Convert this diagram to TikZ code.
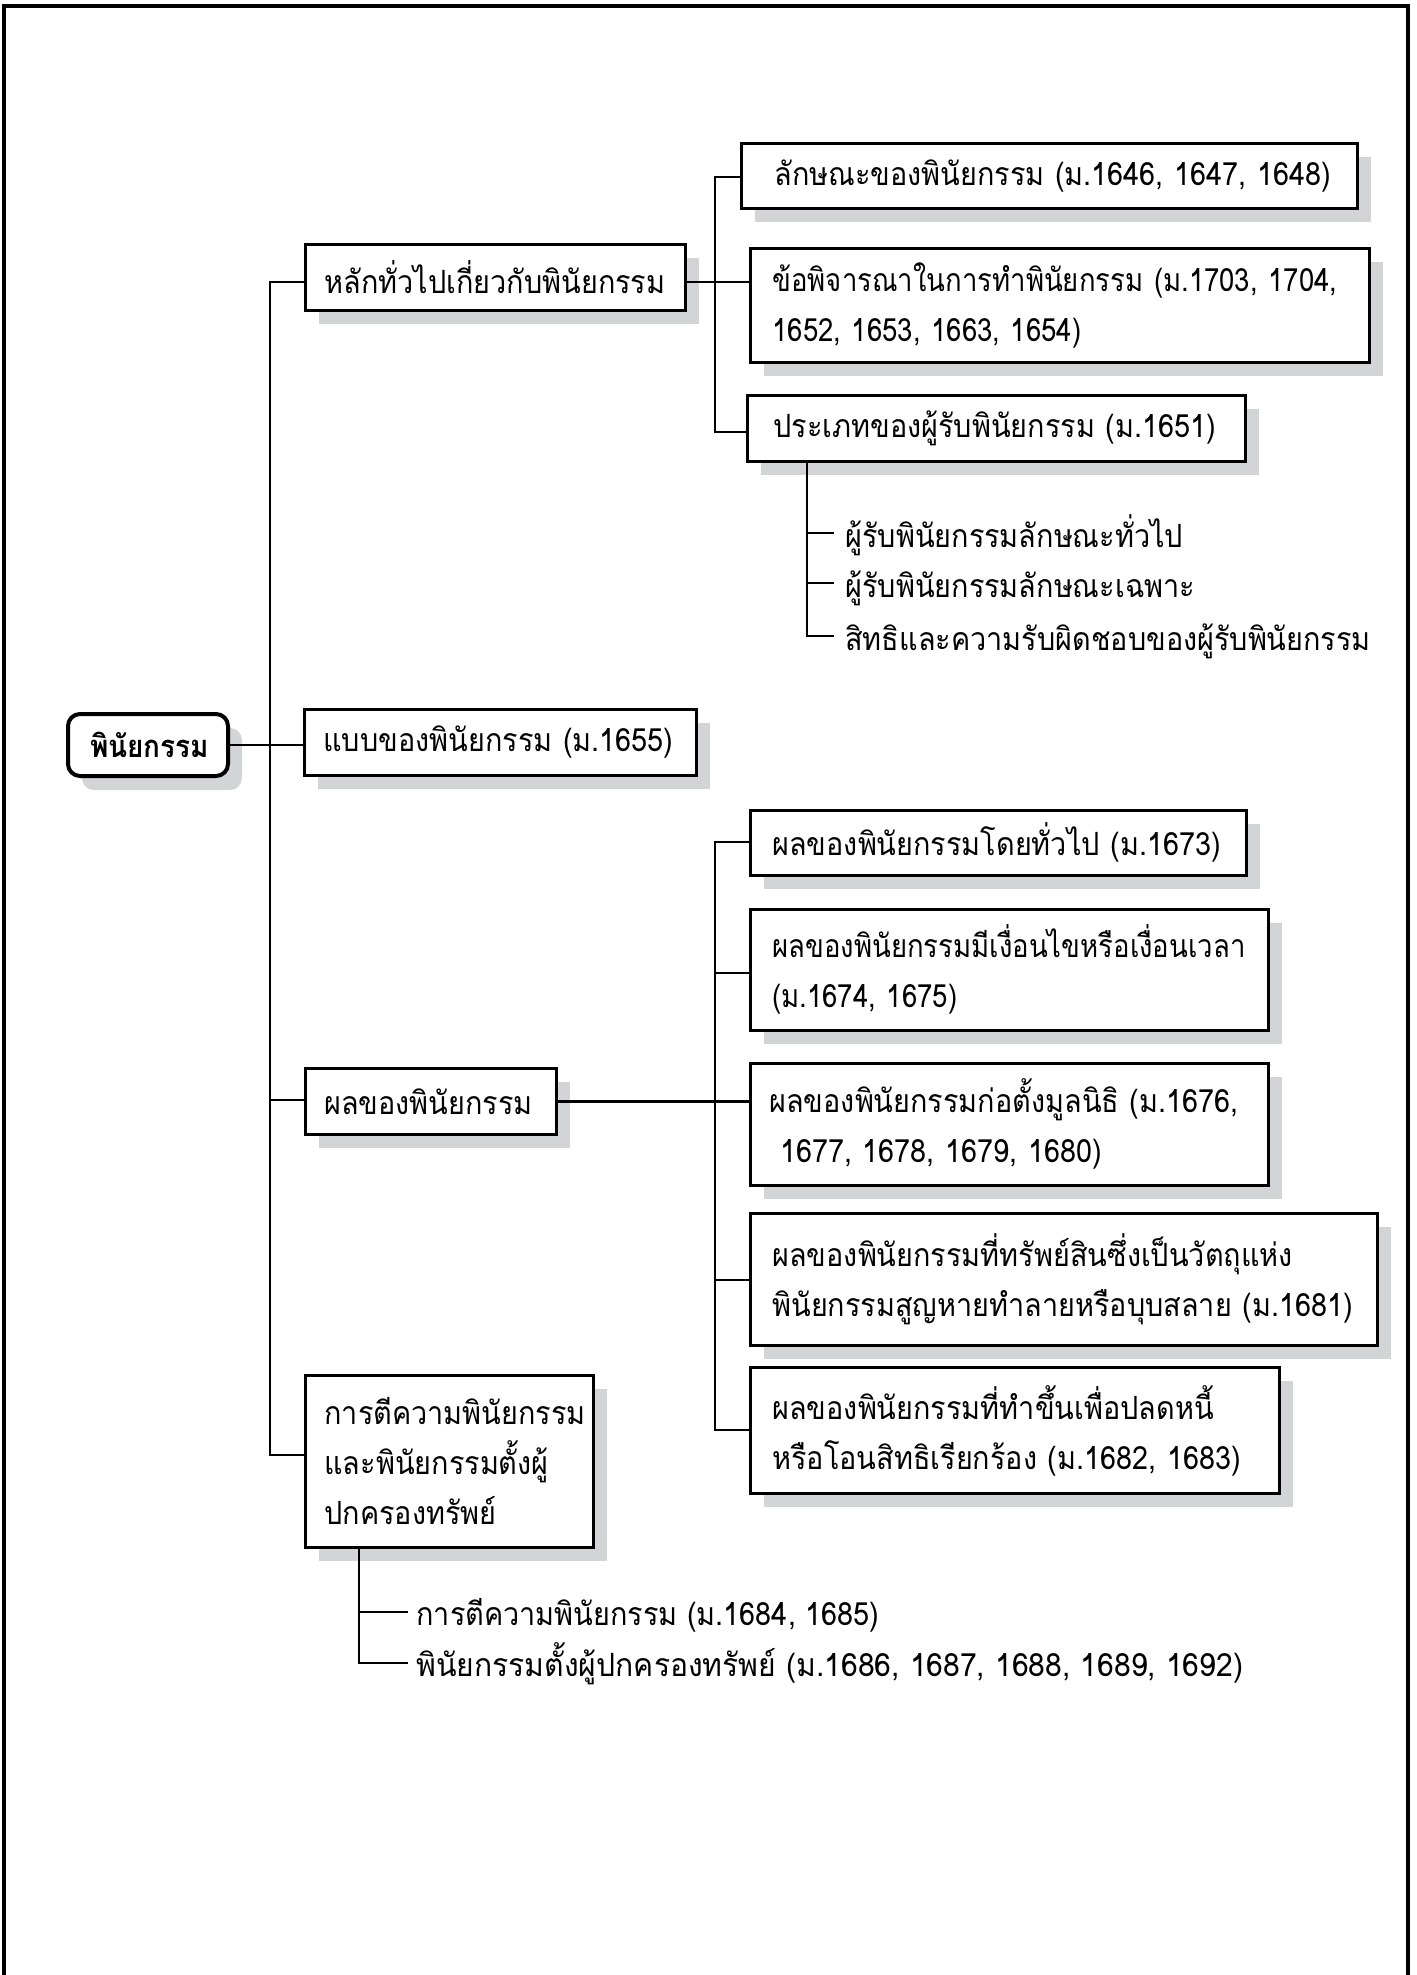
\documentclass[tikz,border=0pt]{standalone}
\usepackage{fontspec}
\usetikzlibrary{shadows}
\newfontfamily\thaifont[Script=Thai, FakeStretch=0.90]{Loma}
\newfontfamily\thainarrow[Script=Thai, FakeStretch=0.86]{Loma}
\newfontfamily\thaiwide[Script=Thai, FakeStretch=0.94]{Loma}
\definecolor{shadegray}{RGB}{211,212,214}
\tikzset{
  bx/.style={draw, line width=1.4pt, fill=white, anchor=north west, align=left,
    inner xsep=11pt, inner ysep=0pt,
    font=\thaifont\fontsize{16}{25}\selectfont,
    drop shadow={shadow xshift=7pt, shadow yshift=-7pt, fill=shadegray, opacity=1}},
  conn/.style={line width=1.3pt},
  item/.style={anchor=west, inner xsep=5.5pt, inner ysep=0pt, text height=17pt, text depth=3pt,
    font=\thaifont\fontsize{16}{25}\selectfont}
}
\begin{document}
\begin{tikzpicture}[x=0.5pt,y=-0.5pt]
\useasboundingbox (0,0) rectangle (1417,1975);
\draw[line width=1.6pt] (4,1975) -- (4,6) -- (1408,6) -- (1408,1975);

% root
\node[bx, line width=2pt, rounded corners=6pt, align=center, text width=58pt, minimum height=31pt,
  font=\thaifont\bfseries\fontsize{15.5}{25}\selectfont] (root) at (66,712) {พินัยกรรม};

% level 1
\node[bx, inner xsep=9.5pt, text width=171pt, minimum height=33pt] (L1a) at (304,243) {\mbox{หลักทั่วไปเกี่ยวกับพินัยกรรม}};
\node[bx, inner xsep=9.5pt, text width=177pt, minimum height=33pt] (L1b) at (303,708) {\mbox{แบบของพินัยกรรม (ม.1655)}};
\node[bx, inner xsep=9.5pt, text width=106.5pt, minimum height=33pt] (L1c) at (304,1067) {\mbox{ผลของพินัยกรรม}};
\node[bx, inner xsep=9.5pt, text width=125pt, minimum height=86pt] (L1d) at (304,1374) {\mbox{การตีความพินัยกรรม}\\\mbox{และพินัยกรรมตั้งผู้}\\\mbox{ปกครองทรัพย์}};

% group 1
\node[bx, inner xsep=16.5pt, text width=275pt, minimum height=32.5pt] (G1a) at (740,142) {\mbox{ลักษณะของพินัยกรรม (ม.1646, 1647, 1648)}};
\node[bx, text width=287.5pt, minimum height=57pt,
  font=\thainarrow\fontsize{16}{25}\selectfont] (G1b) at (749,247) {\mbox{ข้อพิจารณาในการทำพินัยกรรม (ม.1703, 1704,}\\\mbox{1652, 1653, 1663, 1654)}};
\node[bx, inner xsep=13pt, text width=223pt, minimum height=33pt] (G1c) at (746,394) {\mbox{ประเภทของผู้รับพินัยกรรม (ม.1651)}};

\node[item] (S1) at (834,533) {ผู้รับพินัยกรรมลักษณะทั่วไป};
\node[item] (S2) at (834,583) {ผู้รับพินัยกรรมลักษณะเฉพาะ};
\node[item] (S3) at (834,636) {สิทธิและความรับผิดชอบของผู้รับพินัยกรรม};

% group 3
\node[bx, text width=226pt, minimum height=32.5pt] (G3a) at (749,809) {\mbox{ผลของพินัยกรรมโดยทั่วไป (ม.1673)}};
\node[bx, text width=237pt, minimum height=60.5pt,
  font=\thainarrow\fontsize{16}{25}\selectfont] (G3b) at (749,908) {\mbox{ผลของพินัยกรรมมีเงื่อนไขหรือเงื่อนเวลา}\\\mbox{(ม.1674, 1675)}};
\node[bx, inner xsep=9.5pt, text width=240pt, minimum height=61pt] (G3c) at (749,1062) {\mbox{ผลของพินัยกรรมก่อตั้งมูลนิธิ (ม.1676,}\\\mbox{ 1677, 1678, 1679, 1680)}};
\node[bx, text width=291.5pt, minimum height=66pt] (G3d) at (749,1212) {\mbox{ผลของพินัยกรรมที่ทรัพย์สินซึ่งเป็นวัตถุแห่ง}\\\mbox{พินัยกรรมสูญหายทำลายหรือบุบสลาย (ม.1681)}};
\node[bx, text width=242.5pt, minimum height=63pt] (G3e) at (749,1366) {\mbox{ผลของพินัยกรรมที่ทำขึ้นเพื่อปลดหนี้}\\\mbox{หรือโอนสิทธิเรียกร้อง (ม.1682, 1683)}};

% group 4 list
\node[item, inner xsep=4pt, text height=16pt] (T1) at (408,1612) {การตีความพินัยกรรม (ม.1684, 1685)};
\node[item, inner xsep=4pt, text height=16pt, font=\thaiwide\fontsize{16}{25}\selectfont] (T2) at (408,1663) {พินัยกรรมตั้งผู้ปกครองทรัพย์ (ม.1686, 1687, 1688, 1689, 1692)};

% connectors
\coordinate (tkT) at (270,282);
\coordinate (tkC) at (270,1100);
\coordinate (tkB) at (270,1455);
\draw[conn] (tkT -| L1a.west) -- (tkT) -- (tkB) -- (tkB -| L1d.west);
\draw[conn] (tkC) -- (tkC -| L1c.west);
\draw[conn] (root.east) -- (root.east -| L1b.west);
\draw[conn] (tkT -| L1a.east) -- (tkT -| G1b.west);

\coordinate (g1T) at (715,177);
\coordinate (g1B) at (715,432);
\draw[conn] (g1T -| G1a.west) -- (g1T) -- (g1B) -- (g1B -| G1c.west);

\coordinate (svB) at (807,636);
\draw[conn] (svB |- G1c.south) -- (svB) -- (S3.west);
\draw[conn] (svB |- S1.west) -- (S1.west);
\draw[conn] (svB |- S2.west) -- (S2.west);

\coordinate (g3T) at (715,842);
\coordinate (g3b) at (715,973);
\coordinate (g3d) at (715,1280);
\coordinate (g3B) at (715,1430);
\draw[conn] (g3T -| G3a.west) -- (g3T) -- (g3B) -- (g3B -| G3e.west);
\draw[conn] (g3b) -- (g3b -| G3b.west);
\draw[conn] (g3d) -- (g3d -| G3d.west);
\draw[conn] (L1c.east) -- (L1c.east -| G3c.west);

\coordinate (tvB) at (359,1663);
\draw[conn] (tvB |- L1d.south) -- (tvB) -- (T2.west);
\draw[conn] (tvB |- T1.west) -- (T1.west);
\end{tikzpicture}
\end{document}
